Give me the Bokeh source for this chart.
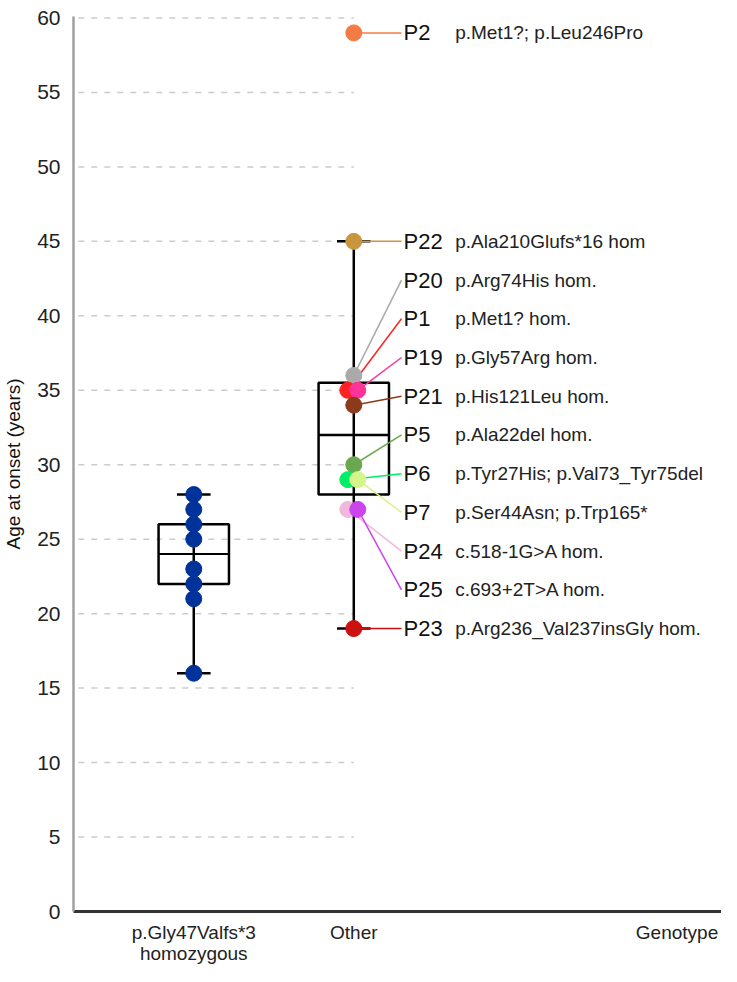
import numpy as np
from bokeh.plotting import figure
from bokeh.models import Range1d, FixedTicker, ColumnDataSource
from bokeh.core.properties import value
from bokeh.embed import file_html
from bokeh.resources import INLINE

# ---------------- data ----------------
group_labels = ["p.Gly47Valfs*3\nhomozygous", "Other"]
group_x = [1, 2]
genotype_label = "Genotype"

y_ticks = [0, 5, 10, 15, 20, 25, 30, 35, 40, 45, 50, 55, 60]

gly47_ages = [28, 27, 26, 25, 23, 22, 21, 16]

other_ids = ["P2", "P22", "P20", "P1", "P19", "P21", "P5", "P6", "P7", "P24", "P25", "P23"]
other_ages = [59, 45, 36, 35, 35, 34, 30, 29, 29, 27, 27, 19]
other_variants = [
    "p.Met1?; p.Leu246Pro",
    "p.Ala210Glufs*16 hom",
    "p.Arg74His hom.",
    "p.Met1? hom.",
    "p.Gly57Arg hom.",
    "p.His121Leu hom.",
    "p.Ala22del hom.",
    "p.Tyr27His; p.Val73_Tyr75del",
    "p.Ser44Asn; p.Trp165*",
    "c.518-1G>A hom.",
    "c.693+2T>A hom.",
    "p.Arg236_Val237insGly hom.",
]
other_colors = ["#f47c44", "#c8963c", "#aaaaaa", "#ff2222", "#ff3399", "#8b3a1a",
                "#6aa84f", "#00ee66", "#d4f58a", "#f2b8dc", "#cc44ee", "#cc1111"]

box_q1 = [22, 28]
box_median = [24, 32]
box_q3 = [26, 35.5]
whisker_low = [16, 19]
whisker_high = [28, 45]

# ---------------- figure ----------------
x_start, x_end = 0.2484, 4.298
p = figure(width=721, height=966,
           x_range=Range1d(x_start, x_end), y_range=Range1d(0, 60.1),
           output_backend="svg", toolbar_location=None,
           min_border_left=65, min_border_right=0, min_border_top=16, min_border_bottom=54)
p.outline_line_color = None
p.xgrid.visible = False
p.ygrid.visible = False

FONT = "Liberation Sans"

# manual dashed grid lines ending at the "Other" category
grid_y = [t for t in y_ticks if t > 0]
p.segment(x0=[x_start + 0.03] * len(grid_y), x1=[group_x[1]] * len(grid_y), y0=grid_y, y1=grid_y,
          line_color="#cccccc", line_width=1.5, line_dash="6 7")

# box plots
box_w = 0.44
cap_w = 0.21
bx = np.array(group_x, dtype=float)
p.segment(x0=bx, x1=bx, y0=whisker_low, y1=whisker_high, line_color="black", line_width=2.5)
p.segment(x0=bx - cap_w / 2, x1=bx + cap_w / 2, y0=whisker_low, y1=whisker_low,
          line_color="black", line_width=2.5)
p.segment(x0=bx - cap_w / 2, x1=bx + cap_w / 2, y0=whisker_high, y1=whisker_high,
          line_color="black", line_width=2.5)
p.quad(left=bx - box_w / 2, right=bx + box_w / 2, bottom=box_q1, top=box_q3,
       fill_color=None, line_color="black", line_width=2.5)
p.segment(x0=bx - box_w / 2, x1=bx + box_w / 2, y0=box_median, y1=box_median,
          line_color="black", line_width=[2, 2.5])

# points of the first group
p.scatter(x=[group_x[0]] * len(gly47_ages), y=gly47_ages, size=16,
          fill_color="#003399", line_color="#003399")

# points of the "Other" group with small horizontal dodges (pixels -> data)
px_per_unit = 161.0
dodge_px = [0, 0, 0, -6, 4, 0, 0, -6, 4, -6, 4, 0]
pt_x = [group_x[1] + d / px_per_unit for d in dodge_px]

n_mid = len(other_ids) - 1
label_y = [other_ages[0]] + list(np.linspace(other_ages[1], other_ages[-1], n_mid))

lead_end_x = group_x[1] + 48 / px_per_unit
pid_x = group_x[1] + 50 / px_per_unit
var_x = group_x[1] + 102 / px_per_unit

src = ColumnDataSource(dict(
    px=pt_x, py=other_ages, lx=[lead_end_x] * len(other_ids), ly=label_y,
    pidx=[pid_x] * len(other_ids), varx=[var_x] * len(other_ids),
    pid=other_ids, var=other_variants, color=other_colors))

p.segment(x0="px", y0="py", x1="lx", y1="ly", line_color="color", line_width=1.5, source=src)
p.scatter(x="px", y="py", size=16, fill_color="color", line_color="color", source=src)

p.text(x="pidx", y="ly", text="pid", source=src, text_font=value(FONT),
       text_font_size=value("22px"), text_baseline="middle", text_align="left", text_color="#111111")
p.text(x="varx", y="ly", text="var", source=src, text_font=value(FONT),
       text_font_size=value("19px"), text_baseline="middle", text_align="left", text_color="#222222")

# axes
genotype_x = 4.02
p.xaxis.ticker = FixedTicker(ticks=[group_x[0], group_x[1], genotype_x])
p.xaxis.major_label_overrides = {group_x[0]: group_labels[0], group_x[1]: group_labels[1],
                                 genotype_x: genotype_label}
p.xaxis.major_tick_line_color = None
p.xaxis.minor_tick_line_color = None
p.xaxis.axis_line_color = "#333333"
p.xaxis.axis_line_width = 3
p.xaxis.major_label_text_font = FONT
p.xaxis.major_label_text_font_size = "19px"
p.xaxis.major_label_text_line_height = 1.0
p.xaxis.major_label_text_color = "#222222"
p.xaxis.major_label_standoff = 4

p.yaxis.ticker = FixedTicker(ticks=y_ticks)
p.yaxis.major_tick_line_color = None
p.yaxis.minor_tick_line_color = None
p.yaxis.axis_line_color = "#a0a0a0"
p.yaxis.axis_line_width = 2.5
p.yaxis.major_label_text_font = FONT
p.yaxis.major_label_text_font_size = "21px"
p.yaxis.major_label_text_color = "#222222"
p.yaxis.major_label_standoff = 7
p.yaxis.axis_label = "Age at onset (years)"
p.yaxis.axis_label_text_font = FONT
p.yaxis.axis_label_text_font_size = "19px"
p.yaxis.axis_label_text_font_style = "normal"
p.yaxis.axis_label_text_color = "#111111"
p.yaxis.axis_label_standoff = 10

open("out.html", "w").write(file_html(p, INLINE))
